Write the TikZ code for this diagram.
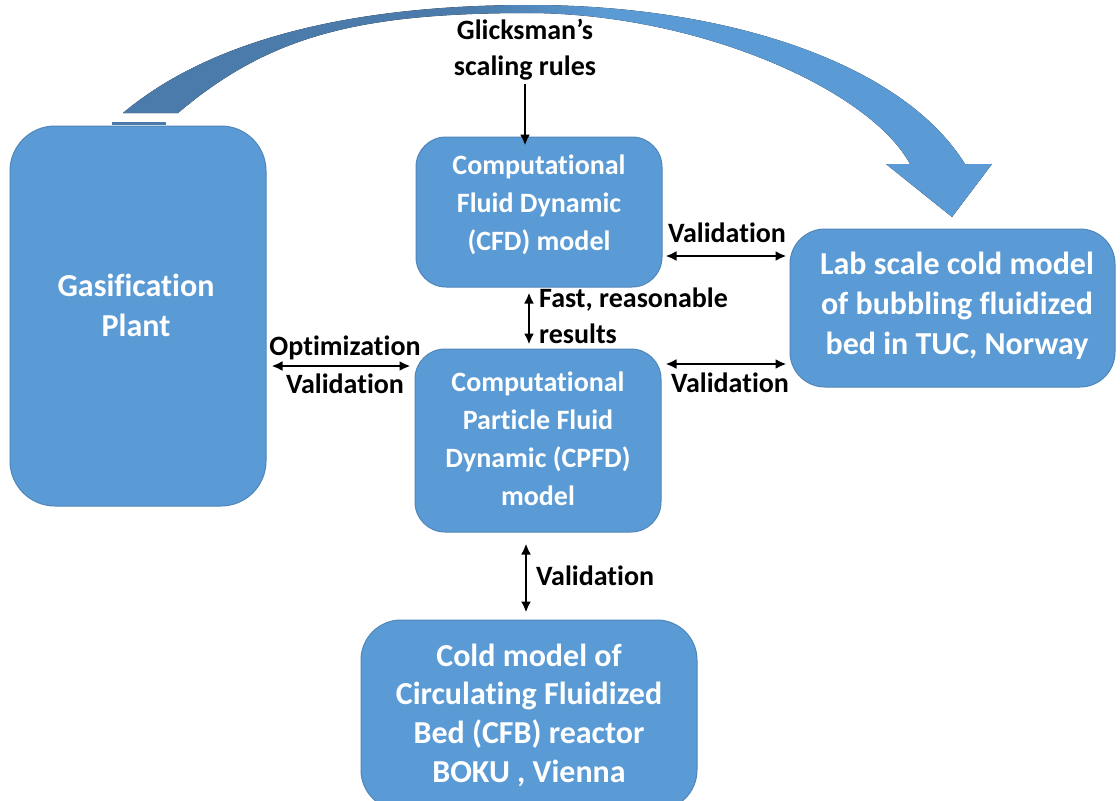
\documentclass[tikz,border=0pt]{standalone}
\usepackage{fontspec}
\setmainfont{Carlito}[Ligatures=NoCommon]
\usetikzlibrary{arrows.meta,calc}
\definecolor{boxblue}{HTML}{5B9BD5}
\definecolor{boxedge}{HTML}{4F86BA}
\definecolor{arcdark}{HTML}{4A7BAA}
\definecolor{arclight}{HTML}{5B9BD5}
\pgfdeclarehorizontalshading{arcshade}{100bp}{color(0bp)=(arcdark); color(45bp)=(arcdark); color(53bp)=(arclight); color(100bp)=(arclight)}
\begin{document}
\begin{tikzpicture}[x=1pt,y=-1pt,
  box/.style={draw=boxedge, line width=1pt, fill=boxblue, rounded corners=#1, inner sep=0pt},
  boxtext/.style={text=white, font=\fontsize{28}{38}\selectfont\bfseries, align=center, inner sep=0pt},
  bigtext/.style={text=white, font=\fontsize{32}{40}\selectfont\bfseries, align=center, inner sep=0pt},
  lbl/.style={font=\fontsize{28}{36}\selectfont\bfseries, inner sep=0pt, align=center},
  dbl/.style={{Latex[length=11pt,width=10pt]}-{Latex[length=11pt,width=10pt]}, line width=2.6pt},
  sgl/.style={-{Latex[length=11pt,width=10pt]}, line width=2.6pt}]
\useasboundingbox (0,0) rectangle (1120,801);
\clip (0,0) rectangle (1120,801);

% big curved arrow
\fill[shading=arcshade] (123,113) .. controls (210,40) and (350,5) .. (530,5)
  .. controls (720,5) and (900,60) .. (965,164) -- (992,164) -- (952,217) -- (886,164) -- (910,164)
  .. controls (870,90) and (700,14) .. (530,13)
  .. controls (360,13) and (270,35) .. (178,113) -- cycle;

% boxes
\node[box=45, minimum width=256pt, minimum height=380pt] (gas) at (138,316) {};
\node[box=30, minimum width=246pt, minimum height=150pt] (cfd) at (539,212) {};
\node[box=35, minimum width=325pt, minimum height=158pt] (lab) at (952.5,308) {};
\node[box=30, minimum width=246pt, minimum height=183pt] (cpfd) at (538,440.5) {};
\node[box=40, minimum width=336pt, minimum height=190pt] (cold) at (529,715) {};
\fill[arcdark] (112,122) rectangle (166,125);

% box texts
\node[bigtext] (gast) at (136,305) {Gasification\\Plant};
\node[boxtext] (cfdt) at (539,205) {Computational\\Fluid Dynamic\\(CFD) model};
\node[bigtext] (labt) at (957,306) {Lab scale cold model\\of bubbling fluidized\\bed in TUC, Norway};
\node[boxtext] (cpfdt) at (538,439) {Computational\\Particle Fluid\\Dynamic (CPFD)\\model};
\node[bigtext, font=\fontsize{32}{38.7}\selectfont\bfseries] (coldt) at (529,715) {Cold model of\\Circulating Fluidized\\Bed (CFB) reactor\\BOKU , Vienna};

% labels
\node[lbl] (glick) at (525,50) {Glicksman's\\scaling rules};
\node[lbl] (val1) at (727,233) {Validation};
\node[lbl, anchor=west, align=left] (fast) at (539,316) {Fast, reasonable\\results};
\node[lbl] (opt) at (345,348) {Optimization};
\node[lbl] (val2) at (345,384) {Validation};
\node[lbl] (val3) at (730,383) {Validation};
\node[lbl, anchor=west] (val4) at (536,576) {Validation};

% coordinates for connector heights
\coordinate (y1) at (0,256);
\coordinate (y2) at (0,366);
\coordinate (y3) at (0,364);
\coordinate (xa) at (529,0);
\coordinate (xb) at (526,0);
\coordinate (xg) at (525,0);

% connectors
\draw[sgl] ([yshift=-3pt]glick.south -| xg) -- ([yshift=-9pt]cfd.north -| xg);
\draw[dbl, shorten <=3pt, shorten >=3pt] (cfd.east |- y1) -- (lab.west |- y1);
\draw[dbl, shorten <=5pt, shorten >=4pt] (cfd.south -| xa) -- (cpfd.north -| xa);
\draw[dbl, shorten <=5pt, shorten >=4pt] (gas.east |- y2) -- (cpfd.west |- y2);
\draw[dbl, shorten <=4pt, shorten >=3pt] (cpfd.east |- y3) -- (lab.west |- y3);
\draw[dbl, shorten <=11pt, shorten >=7pt] (cpfd.south -| xb) -- (cold.north -| xb);
\end{tikzpicture}
\end{document}
